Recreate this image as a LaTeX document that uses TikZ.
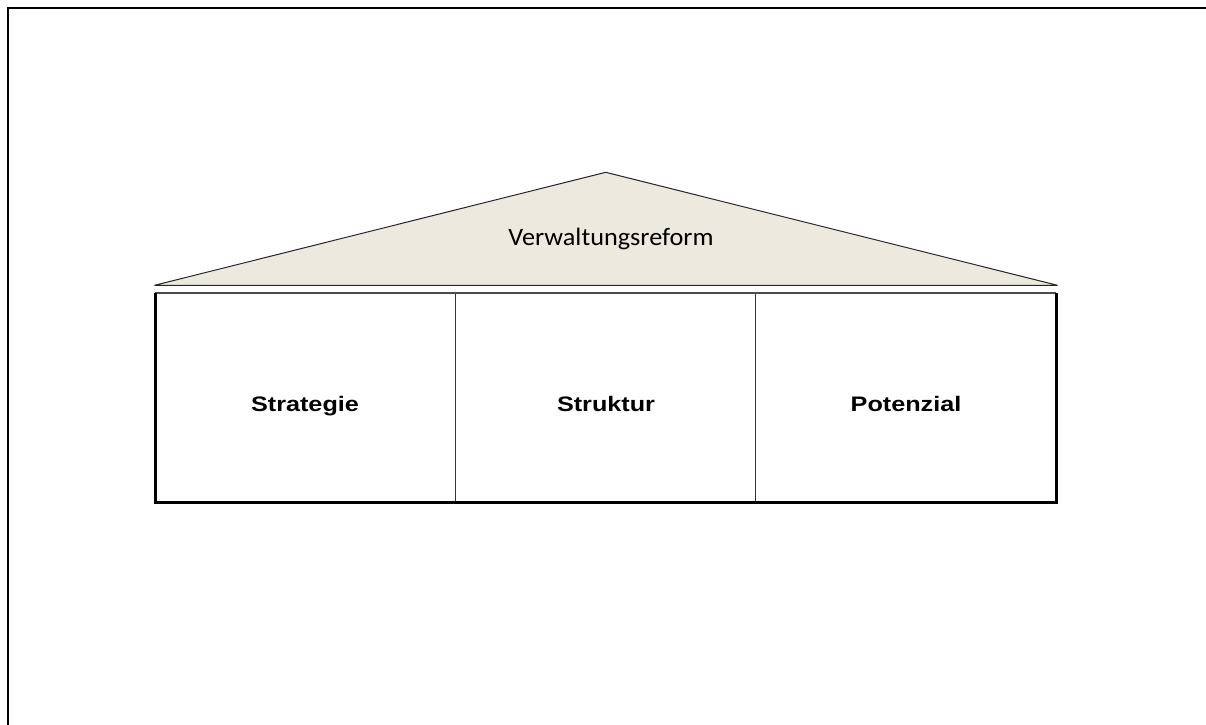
\documentclass[tikz,border=0pt]{standalone}
\usepackage{fontspec}
\newfontfamily\roofFont{Carlito}
\newfontfamily\pillarFont{Liberation Sans}
\begin{document}
\begin{tikzpicture}[x=1pt,y=-1pt,
  roof/.style={draw=black!85,line width=1pt,fill=roofFill,line join=bevel},
  pillar/.style={draw=black!80,line width=1pt,minimum width=300.3pt,minimum height=209pt,inner sep=0pt,outer sep=0pt},
  pillarText/.style={font=\pillarFont\bfseries\fontsize{21}{24}\selectfont,xscale=1.2,anchor=base},
  roofText/.style={font=\roofFont\fontsize{25}{29}\selectfont,xscale=1.05,anchor=base}]
\definecolor{roofFill}{HTML}{ECEADF}
\useasboundingbox (0,0) rectangle (1206,724);
% page frame, cut off at right and bottom
\draw[line width=2pt] (8,730) -- (8,7.7) -- (1212,7.7);
% roof
\coordinate (apex) at (605.7,172.3);
\coordinate (eaveL) at (154.5,285.3);
\coordinate (eaveR) at (1057.5,285.3);
\draw[roof] (eaveL) -- (apex) -- (eaveR) -- cycle;
\node[roofText] (reform) at (611,245) {Verwaltungsreform};
% pillars
\node[pillar] (p1) at (305.5,397.5) {};
\node[pillar] (p2) at (p1.east) [anchor=west] {};
\node[pillar] (p3) at (p2.east) [anchor=west] {};
\draw[line width=1.6pt,draw=black!70] (p1.north west) -- (p3.north east);
\draw[line width=3pt,line join=miter] (p1.north west) -- (p1.south west) -- (p3.south east) -- (p3.north east);
\node[pillarText] (strategie) at (305,411) {Strategie};
\node[pillarText] (struktur) at (606,411) {Struktur};
\node[pillarText] (potenzial) at (906,411) {Potenzial};
\end{tikzpicture}
\end{document}
